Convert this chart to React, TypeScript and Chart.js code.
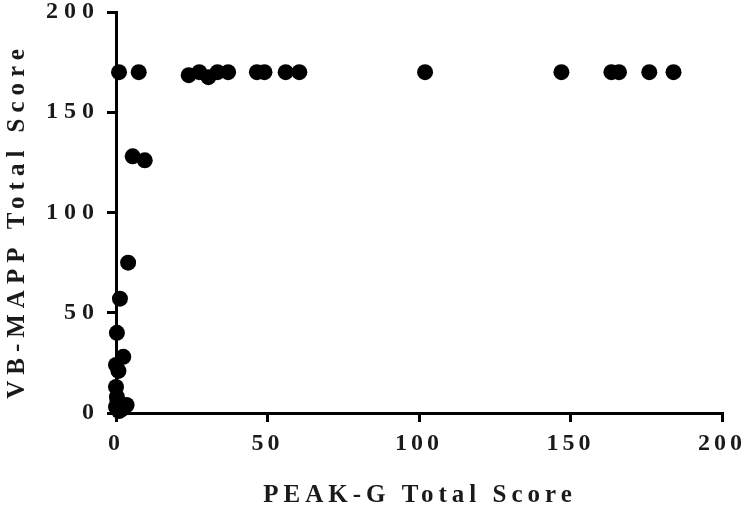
import React, { useEffect, useRef } from "react";
import { Chart, registerables } from "chart.js";

Chart.register(...registerables);

const xTitle = "PEAK-G Total Score";
const yTitle = "VB-MAPP Total Score";
const xTicks = [0, 50, 100, 150, 200];
const yTicks = [0, 50, 100, 150, 200];

const peakScores = [
  1, 7.5, 5.5, 9.5, 4, 1.3, 0.3, 2.4, 0, 0.8, 0, 0.3, 0, 3.5, 1, 2, 0.5,
  24, 27.5, 30.5, 33.5, 37, 46.5, 49, 56, 60.5, 102, 147, 163.5, 166, 176, 184,
];
const vbmappScores = [
  170, 170, 128, 126, 75, 57, 40, 28, 24, 21, 13, 8, 3, 4, 1, 2, 6,
  168.5, 170, 167.5, 170, 170, 170, 170, 170, 170, 170, 170, 170, 170, 170, 170,
];

const FONT = "'Liberation Serif', 'Times New Roman', serif";

const titlePlugin = {
  id: "spacedTitles",
  beforeDraw(chart: any) {
    (chart.ctx as any).letterSpacing = "4px";
    const ys = chart.scales.y;
    if (ys && !ys.__wrapped) {
      const orig = ys.drawLabels.bind(ys);
      ys.drawLabels = (ca: any) => {
        const prev = (chart.ctx as any).letterSpacing;
        (chart.ctx as any).letterSpacing = "6px";
        orig(ca);
        (chart.ctx as any).letterSpacing = prev;
      };
      ys.__wrapped = true;
    }
  },
  afterDraw(chart: any) {
    const ctx = chart.ctx;
    const a = chart.chartArea;
    ctx.save();
    (ctx as any).letterSpacing = "5px";
    ctx.fillStyle = "#1a1a1a";
    ctx.font = `bold 25px ${FONT}`;
    ctx.textAlign = "center";
    ctx.textBaseline = "alphabetic";
    ctx.fillText(xTitle, (a.left + a.right) / 2 + 1, 502);
    ctx.translate(24, 224);
    ctx.rotate(-Math.PI / 2);
    (ctx as any).letterSpacing = "6px";
    ctx.fillText(yTitle, 3, 0);
    ctx.restore();
  },
};

export default function App() {
  const ref = useRef<HTMLCanvasElement>(null);
  useEffect(() => {
    document.body.style.margin = "0";
    const points = peakScores.map((x, i) => ({ x, y: vbmappScores[i] }));
    const axisCommon = {
      type: "linear" as const,
      min: 0,
      max: 200,
      border: { display: true, color: "#000", width: 3 },
      grid: {
        drawOnChartArea: false,
        drawTicks: true,
        tickLength: 9,
        color: "#000",
        lineWidth: 3,
      },
    };
    const chart = new Chart(ref.current!, {
      type: "scatter",
      data: {
        datasets: [
          {
            data: points,
            backgroundColor: "#000",
            borderWidth: 0,
            pointRadius: 8,
            pointHoverRadius: 8,
            clip: false as any,
          },
        ],
      },
      plugins: [titlePlugin],
      options: {
        animation: false,
        responsive: false,
        layout: { autoPadding: false, padding: { top: 12, right: 23, left: 0, bottom: 0 } },
        plugins: { legend: { display: false }, tooltip: { enabled: false } },
        scales: {
          x: {
            ...axisCommon,
            afterBuildTicks: (s: any) => {
              s.ticks = xTicks.map((v) => ({ value: v }));
            },
            afterFit: (s: any) => {
              s.height = 94;
              s.paddingLeft = 0;
              s.paddingRight = 0;
            },
            ticks: {
              color: "#1a1a1a",
              font: { family: FONT, size: 24, weight: "bold" },
              padding: 7,
              maxRotation: 0,
            },
          },
          y: {
            ...axisCommon,
            afterBuildTicks: (s: any) => {
              s.ticks = yTicks.map((v) => ({ value: v }));
            },
            afterFit: (s: any) => {
              s.width = 116;
              s.paddingTop = 0;
              s.paddingBottom = 0;
            },
            ticks: {
              color: "#1a1a1a",
              font: { family: FONT, size: 24, weight: "bold", lineHeight: 0.8 },
              padding: 7,
            },
          },
        },
      },
    });
    return () => chart.destroy();
  }, []);
  return (
    <div style={{ width: 745, height: 507 }}>
      <canvas ref={ref} width={745} height={507} />
    </div>
  );
}
